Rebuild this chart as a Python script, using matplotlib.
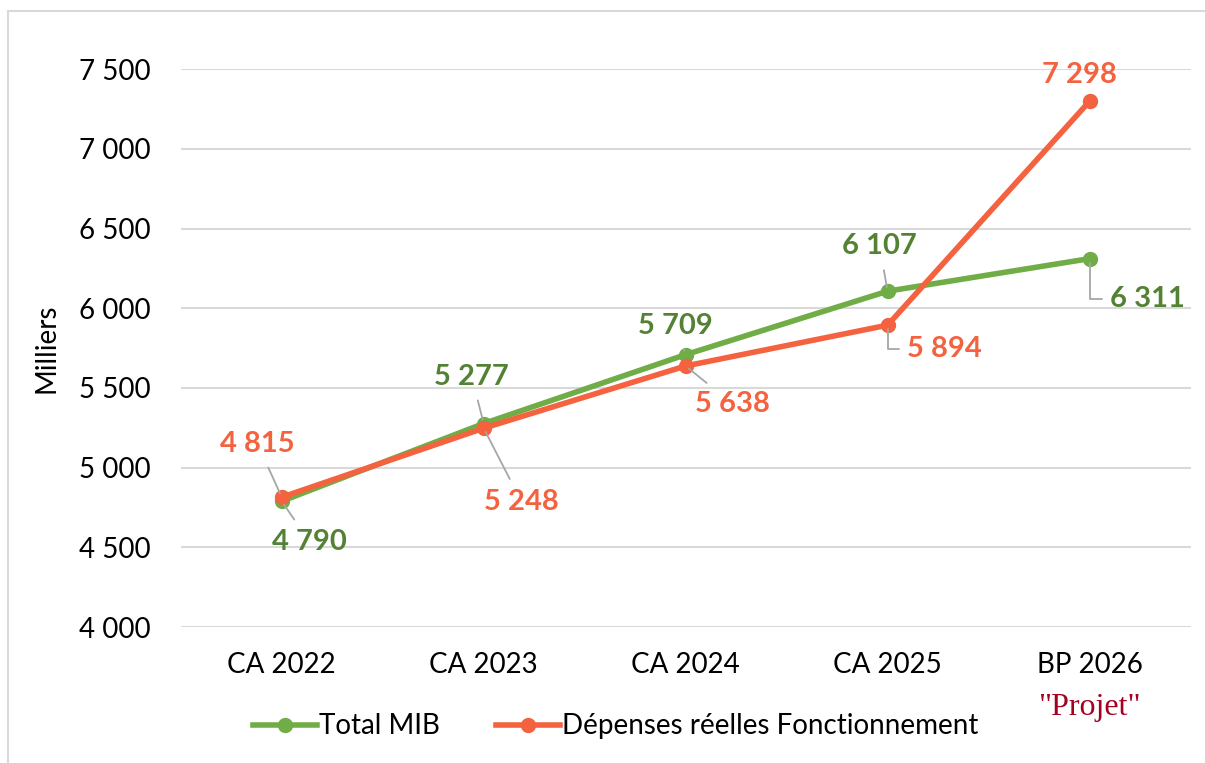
import matplotlib.pyplot as plt
from matplotlib.patches import Rectangle
from matplotlib.ticker import FuncFormatter

# Données (milliers)
categories = ["CA 2022", "CA 2023", "CA 2024", "CA 2025", "BP 2026"]
total_mib = [4790, 5277, 5709, 6107, 6311]
depenses = [4815, 5248, 5638, 5894, 7298]
y_ticks = [4000, 4500, 5000, 5500, 6000, 6500, 7000, 7500]

VERT = "#70AD47"
VERT_TXT = "#548235"
ORANGE = "#F4623F"
GRIS = "#A6A6A6"

# Décalage des étiquettes (pixels) par rapport aux points
offs_vert = [(28, -41), (-12, 47), (-10, 29), (-8, 45), (58, -40)]
offs_orange = [(-24, 53), (38, -74), (47, -38), (57, -24), (-10, 26)]
leader_vert = [True, True, True, True, "elbow"]
leader_orange = [True, True, True, "elbow", False]


def fmt(v, pos=None):
    return f"{int(v):,}".replace(",", " ")


plt.rcParams["font.family"] = ["Lato", "DejaVu Sans"]

fig = plt.figure(figsize=(12.05, 7.63), dpi=100)
ax = fig.add_axes([0.150, 0.178, 0.838, 0.7315])

x = list(range(len(categories)))
ax.plot(x, total_mib, color=VERT, lw=4, marker="o", ms=10, label="Total MIB", zorder=3)
ax.plot(x, depenses, color=ORANGE, lw=4, marker="o", ms=10,
        label="Dépenses réelles Fonctionnement", zorder=4)

ax.set_xlim(-0.5, len(categories) - 0.5)
ax.set_ylim(4000, 7500)
ax.set_yticks(y_ticks)
ax.yaxis.set_major_formatter(FuncFormatter(fmt))
ax.set_xticks(x)
ax.set_xticklabels(categories)
ax.tick_params(length=0, labelsize=20)
ax.tick_params(axis="x", pad=18)
ax.tick_params(axis="y", pad=22)
ax.grid(axis="y", color="#D9D9D9", lw=1.5)
ax.set_axisbelow(True)
for s in ax.spines.values():
    s.set_visible(False)
ax.set_ylabel("Milliers", fontsize=20, labelpad=14)


def etiquettes(vals, offs, leaders, col):
    for i, v in enumerate(vals):
        dx, dy = offs[i]
        props = None
        if leaders[i] == "elbow":
            props = dict(arrowstyle="-", color=GRIS, lw=1.3, shrinkA=4, shrinkB=3,
                         connectionstyle="angle,angleA=0,angleB=90,rad=0")
        elif leaders[i]:
            props = dict(arrowstyle="-", color=GRIS, lw=1.3, shrinkA=6, shrinkB=3)
        ax.annotate(fmt(v), (i, v), xytext=(dx, dy), textcoords="offset pixels",
                    ha="center", va="center", fontsize=21, fontweight="bold",
                    color=col, arrowprops=props, zorder=5)


etiquettes(total_mib, offs_vert, leader_vert, VERT_TXT)
etiquettes(depenses, offs_orange, leader_orange, ORANGE)

# "Projet" sous BP 2026
ax.annotate('"Projet"', (4, 4000), xytext=(0, -80), textcoords="offset pixels",
            ha="center", va="center", fontsize=23, family="Liberation Serif",
            color="#A50021", annotation_clip=False)

fig.legend(loc="center", bbox_to_anchor=(0.511, 0.048), ncol=2, frameon=False,
           fontsize=20, handlelength=2.3, columnspacing=2.0, handletextpad=0.1)

fig.patches.append(Rectangle((8 / 1205, -0.01), 1.0, 1 - 11 / 763 + 0.01,
                             transform=fig.transFigure, fill=False,
                             edgecolor="#D9D9D9", lw=1.5))

fig.savefig("out.png", dpi=100)
